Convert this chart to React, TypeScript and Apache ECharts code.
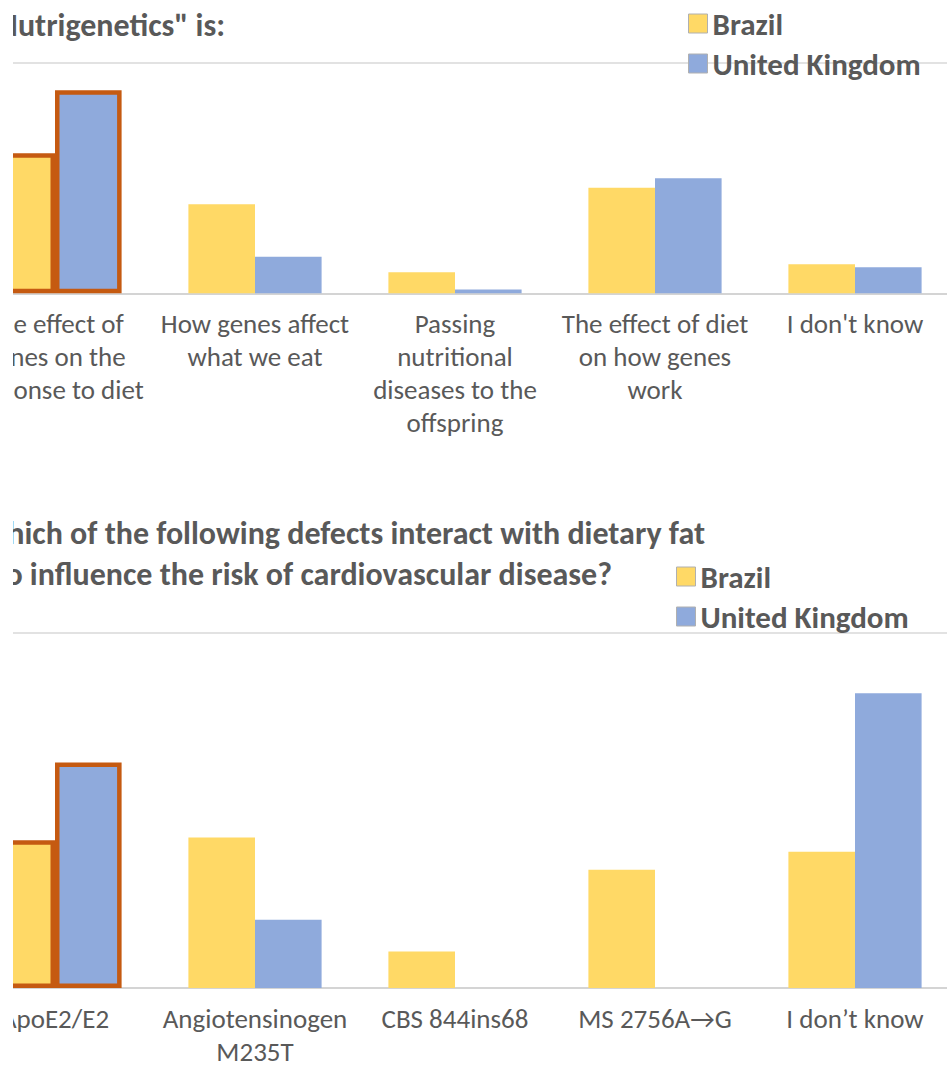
import React, { useEffect, useRef } from "react";
import * as echarts from "echarts";

const seriesNames = ["Brazil", "United Kingdom"];

const categories1 = [
  "The effect of\ngenes on the\nresponse to diet",
  "How genes affect\nwhat we eat",
  "Passing\nnutritional\ndiseases to the\noffspring",
  "The effect of diet\non how genes\nwork",
  "I don't know",
];
const brazil1 = [60.7, 38.6, 9.1, 45.8, 12.6];
const uk1 = [88.0, 15.9, 1.7, 49.9, 11.3];

const categories2 = [
  "ApoE2/E2",
  "Angiotensinogen\nM235T",
  "CBS 844ins68",
  "MS 2756A\u2192G",
  "I don\u2019t know",
];
const brazil2 = [41.6, 42.4, 10.3, 33.3, 38.4];
const uk2 = [63.5, 19.2, 0, 0, 83.0];

const highlightedIndex = 0;

const title1 = "\u201CNutrigenetics\" is:";
const title2a = "Which of the following defects interact with dietary fat";
const title2b = "to influence the risk of cardiovascular disease?";

const FONT = "Carlito, Lato, sans-serif";
const TEXT = "#595959";
const YELLOW = "#FFD966";
const BLUE = "#8FAADC";
const ORANGE = "#C55A11";
const OX = 100; // chart x = page x + OX

function barData(values: number[]) {
  return values.map((v, i) =>
    i === highlightedIndex
      ? { value: v, itemStyle: { borderColor: ORANGE, borderWidth: 4.5 } }
      : v
  );
}

export default function App() {
  const ref = useRef<HTMLDivElement>(null);
  useEffect(() => {
    if (!ref.current) return;
    const chart = echarts.init(ref.current, undefined, { renderer: "svg" });
    const xAxisCommon = {
      type: "category" as const,
      axisTick: { show: false },
      axisLine: { lineStyle: { color: "#d4d4d4", width: 2 } },
      axisLabel: {
        color: TEXT,
        fontFamily: FONT,
        fontSize: 27,
        lineHeight: 33,
        margin: 14,
        interval: 0,
      },
    };
    const yAxisCommon = {
      type: "value" as const,
      min: 0,
      max: 100,
      interval: 100,
      axisLabel: { show: false },
      axisLine: { show: false },
      axisTick: { show: false },
      splitLine: { lineStyle: { color: "#d9d9d9", width: 1.5 } },
    };
    const legendCommon = {
      orient: "vertical" as const,
      padding: 0,
      itemWidth: 19,
      itemHeight: 19,
      itemGap: 9,
      icon: "rect",
      itemStyle: { borderColor: "#b0b0b0", borderWidth: 1 },
      textStyle: {
        color: TEXT,
        fontFamily: FONT,
        fontSize: 31,
        fontWeight: "bold" as const,
        lineHeight: 30,
      },
      data: seriesNames,
    };
    const barCommon = {
      type: "bar" as const,
      barGap: "0%",
      barCategoryGap: "33.4%",
    };
    const titleStyle = {
      fill: TEXT,
      fontFamily: FONT,
      fontSize: 32,
      fontWeight: "bold",
      align: "right",
      verticalAlign: "middle",
    };
    chart.setOption({
      animation: false,
      backgroundColor: "#ffffff",
      grid: [
        { left: 55, top: 62.7, width: 1000, height: 230.6 },
        { left: 55, top: 633, width: 1000, height: 358.5 },
      ],
      xAxis: [
        { ...xAxisCommon, gridIndex: 0, data: categories1 },
        { ...xAxisCommon, gridIndex: 1, data: categories2 },
      ],
      yAxis: [
        { ...yAxisCommon, gridIndex: 0 },
        { ...yAxisCommon, gridIndex: 1 },
      ],
      legend: [
        { ...legendCommon, left: 688 + OX, top: 8 },
        { ...legendCommon, left: 676 + OX, top: 561 },
      ],
      series: [
        { ...barCommon, name: seriesNames[0], xAxisIndex: 0, yAxisIndex: 0, itemStyle: { color: YELLOW }, data: barData(brazil1) },
        { ...barCommon, name: seriesNames[1], xAxisIndex: 0, yAxisIndex: 0, itemStyle: { color: BLUE }, data: barData(uk1) },
        { ...barCommon, name: seriesNames[0], xAxisIndex: 1, yAxisIndex: 1, itemStyle: { color: YELLOW }, data: barData(brazil2) },
        { ...barCommon, name: seriesNames[1], xAxisIndex: 1, yAxisIndex: 1, itemStyle: { color: BLUE }, data: barData(uk2) },
      ],
      graphic: [
        { type: "text", x: 225 + OX, y: 25, style: { ...titleStyle, text: title1 } },
        { type: "text", x: 705 + OX, y: 533, style: { ...titleStyle, text: title2a } },
        { type: "text", x: 612 + OX, y: 574, style: { ...titleStyle, text: title2b } },
      ],
    });
    return () => chart.dispose();
  }, []);
  return (
    <div
      style={{
        position: "absolute",
        left: 13,
        top: 0,
        width: 934,
        height: 1068,
        overflow: "hidden",
        background: "#ffffff",
      }}
    >
      <div
        ref={ref}
        style={{ position: "absolute", left: -13 - OX, top: 0, width: 1100, height: 1068 }}
      />
    </div>
  );
}
